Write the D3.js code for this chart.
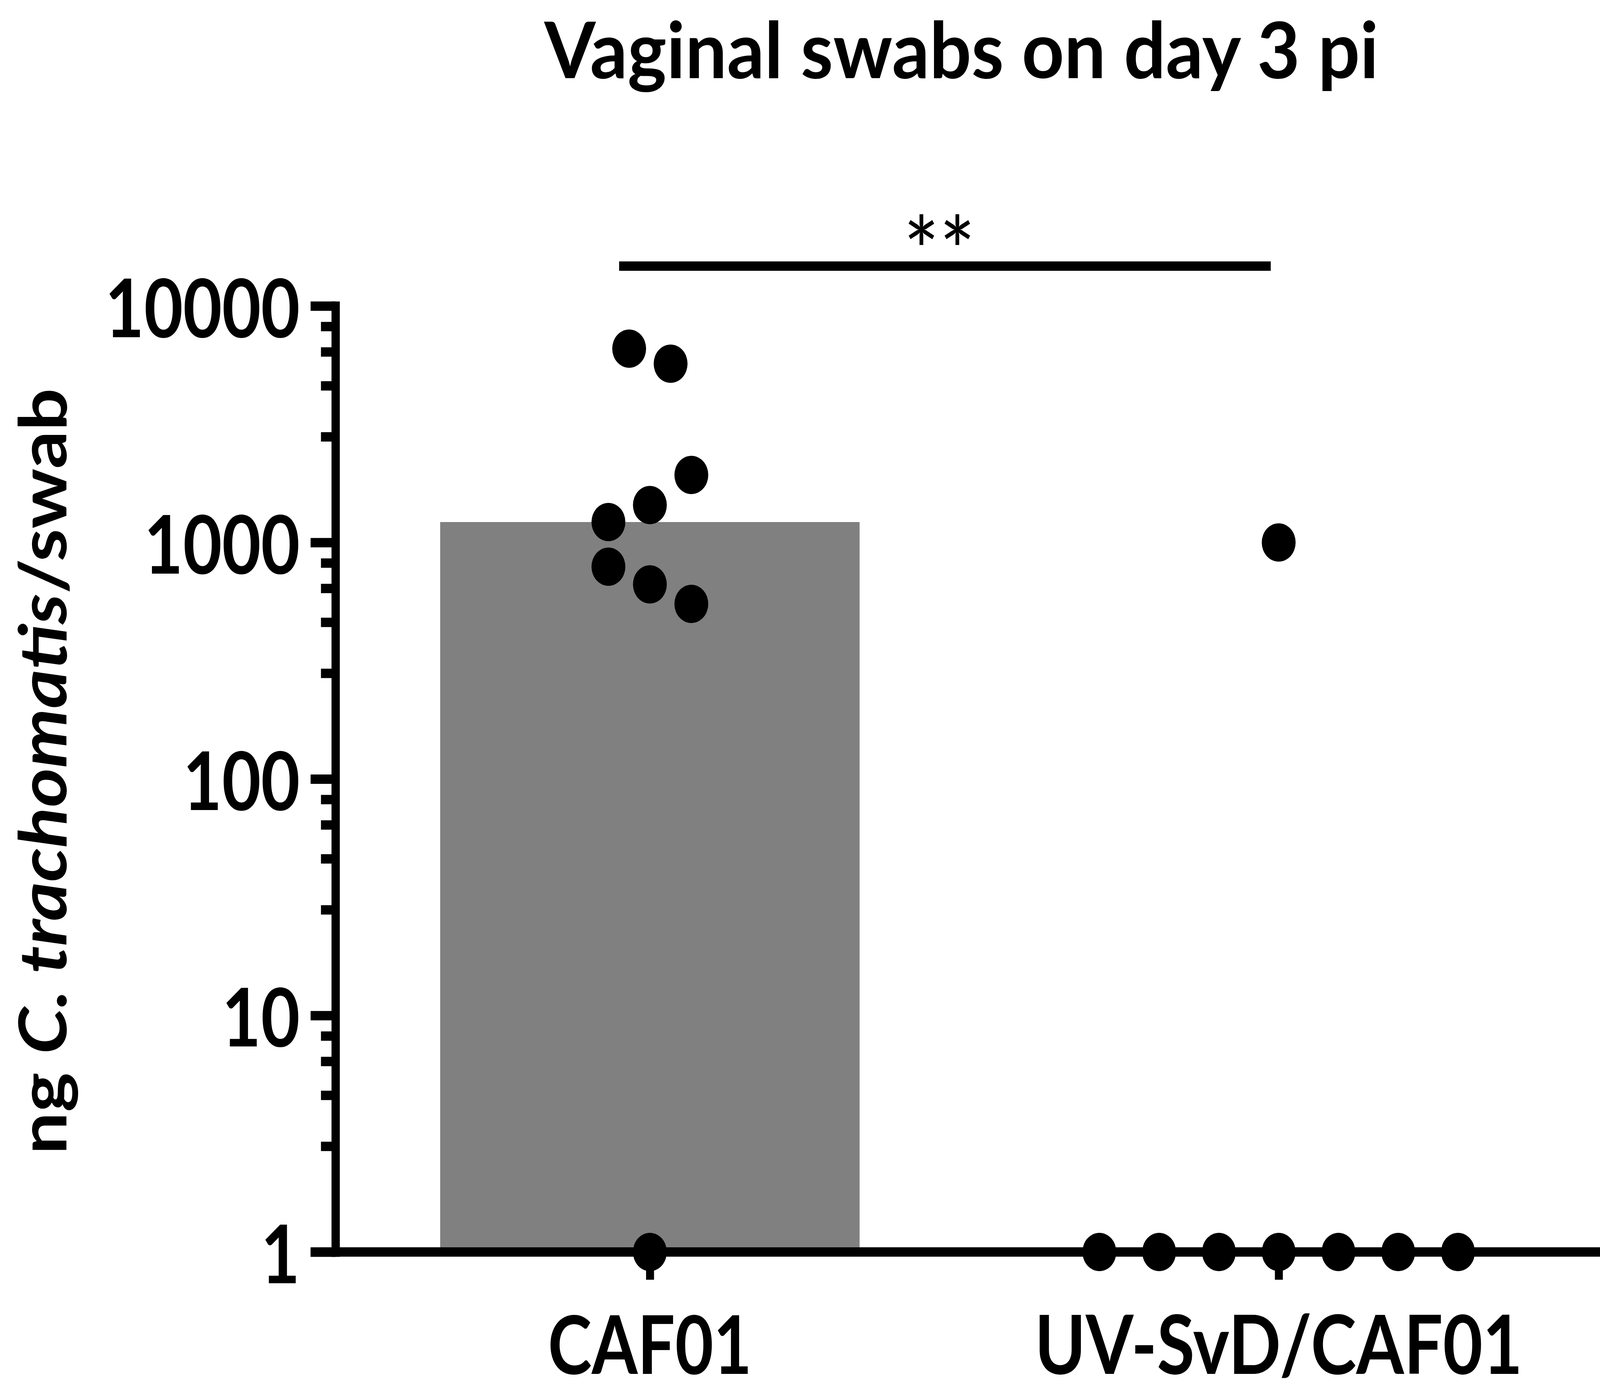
<!DOCTYPE html>
<html>
<head>
<meta charset="utf-8">
<script src="https://cdn.jsdelivr.net/npm/d3@7"></script>
<style>
  html, body { margin: 0; padding: 0; background: #ffffff; width: 100%; height: 100%; overflow: hidden; }
  svg { display: block; width: 100vw; height: 100vh; }
</style>
</head>
<body>
<svg id="chart" viewBox="0 0 4631 3570" preserveAspectRatio="none"></svg>
<script>
// ---------------- data ----------------
const categories = ["CAF01", "UV-SvD/CAF01"];
const cafValues = [6600, 5700, 1930, 1440, 1220, 790, 665, 550, 1];
const uvValues  = [1000, 1, 1, 1, 1, 1, 1, 1];
const cafSlots  = [-1, 1, 2, 0, -2, -2, 0, 2, 0];   // swarm column index of each point
const uvSlots   = [0, -3, -2, -1, 0, 1, 2, 3];
const majorTicks = [1, 10, 100, 1000, 10000];
const minorMultipliers = [2.8, 4.6, 6.4, 8.2];
const titleText = "Vaginal swabs on day 3 pi";
const significanceLabel = "**";
const yLabelParts = [
  { text: "ng ", italic: false },
  { text: "C. trachomatis", italic: true },
  { text: "/swab", italic: false }
];

// ---------------- layout ----------------
const W = 4631, H = 3570;
const axisX = 971, plotRight = 4611, yBottom = 3204, yTop = 783;
const STROKE = 24;
const FONT = "Lato, 'Open Sans', 'DejaVu Sans', sans-serif";

const svg = d3.select("#chart");
svg.append("rect").attr("width", W).attr("height", H).attr("fill", "#fff");

const x = d3.scalePoint().domain(categories).range([axisX, plotRight]).padding(0.5);
const y = d3.scaleLog().domain([1, 10000]).range([yBottom, yTop]);

const groups = [
  { cat: categories[0], values: cafValues, slots: cafSlots, slotW: 60 },
  { cat: categories[1], values: uvValues,  slots: uvSlots,  slotW: 173 }
];
const barW = 1214;

// bars (median)
svg.append("g").selectAll("rect").data(groups).join("rect")
  .attr("x", d => x(d.cat) - barW / 2)
  .attr("width", barW)
  .attr("y", d => y(d3.median(d.values)))
  .attr("height", d => y(1) - y(d3.median(d.values)))
  .attr("fill", "#808080");

// minor y ticks
const minorVals = [];
for (let i = 0; i < majorTicks.length - 1; i++) {
  minorMultipliers.forEach(m => minorVals.push(majorTicks[i] * m));
}
const gMinor = svg.append("g").attr("transform", `translate(${axisX},0)`)
  .call(d3.axisLeft(y).tickValues(minorVals).tickSize(42).tickSizeOuter(0).tickFormat(""));
gMinor.select(".domain").remove();
gMinor.selectAll(".tick line").attr("stroke", "#000").attr("stroke-width", STROKE);

// major y axis
const gy = svg.append("g").attr("transform", `translate(${axisX},0)`)
  .call(d3.axisLeft(y).tickValues(majorTicks).tickFormat(d3.format("d"))
        .tickSize(72).tickSizeOuter(0).tickPadding(31));
gy.select(".domain").attr("stroke", "#000").attr("stroke-width", STROKE).attr("stroke-linecap", "square");
gy.selectAll(".tick line").attr("stroke", "#000").attr("stroke-width", STROKE);
const tickTexts = gy.selectAll(".tick text")
  .attr("font-family", FONT).attr("font-weight", "bold").attr("font-size", 208)
  .attr("fill", "#000").attr("dy", "0.38em");
// condense tick labels to match reference width of "10000"
let kTick = 1;
tickTexts.each(function(d) { if (d === 10000) kTick = 564 / this.getBBox().width; });
tickTexts.each(function() {
  const t = d3.select(this);
  const tx = +t.attr("x");
  t.attr("x", 0).attr("transform", `translate(${tx},0) scale(${kTick},1)`);
});

// x axis baseline
svg.append("line")
  .attr("x1", axisX - 72).attr("x2", W)
  .attr("y1", y(1)).attr("y2", y(1))
  .attr("stroke", "#000").attr("stroke-width", STROKE);

// x category ticks
const gx = svg.append("g").attr("transform", `translate(0,${y(1)})`)
  .call(d3.axisBottom(x).tickSize(71).tickSizeOuter(0).tickFormat(""));
gx.select(".domain").remove();
gx.selectAll(".tick line").attr("stroke", "#000").attr("stroke-width", 23);

// category labels
const catWidths = [590, 1412];
categories.forEach((c, i) => {
  const g = svg.append("g");
  const t = g.append("text").text(c)
    .attr("font-family", FONT).attr("font-weight", "bold").attr("font-size", 208)
    .attr("text-anchor", "middle").attr("fill", "#000");
  const k = catWidths[i] / t.node().getBBox().width;
  g.attr("transform", `translate(${x(c)},3516) scale(${k},1)`);
});

// points
const points = [];
groups.forEach(g => g.values.forEach((v, i) => points.push({ cat: g.cat, v, dx: g.slots[i] * g.slotW })));
svg.append("g").selectAll("circle").data(points).join("circle")
  .attr("cx", d => x(d.cat) + d.dx)
  .attr("cy", d => y(d.v))
  .attr("r", 49)
  .attr("fill", "#000");

// significance bracket
const sigY = y(10000) - 102;
svg.append("line")
  .attr("x1", x(categories[0]) - 89).attr("x2", x(categories[1]) - 23)
  .attr("y1", sigY).attr("y2", sigY)
  .attr("stroke", "#000").attr("stroke-width", STROKE);
svg.append("text").text(significanceLabel)
  .attr("x", 2719).attr("y", sigY + 52)
  .attr("font-family", FONT).attr("font-weight", "normal").attr("font-size", 245)
  .attr("text-anchor", "middle").attr("fill", "#000");

// title
{
  const g = svg.append("g");
  const t = g.append("text").text(titleText)
    .attr("font-family", FONT).attr("font-weight", "bold").attr("font-size", 200)
    .attr("text-anchor", "middle").attr("fill", "#000");
  const k = 2417 / t.node().getBBox().width;
  g.attr("transform", `translate(2783,200) scale(${k},1)`);
}

// y label
{
  const g = svg.append("g");
  const t = g.append("text")
    .attr("font-family", FONT).attr("font-weight", "bold").attr("font-size", 190)
    .attr("text-anchor", "middle").attr("fill", "#000");
  t.selectAll("tspan").data(yLabelParts).join("tspan")
    .attr("font-style", d => d.italic ? "italic" : "normal")
    .text(d => d.text);
  const k = 1961 / t.node().getBBox().width;
  g.attr("transform", `translate(192,1974) rotate(-90) scale(${k},1)`);
}
</script>
</body>
</html>
